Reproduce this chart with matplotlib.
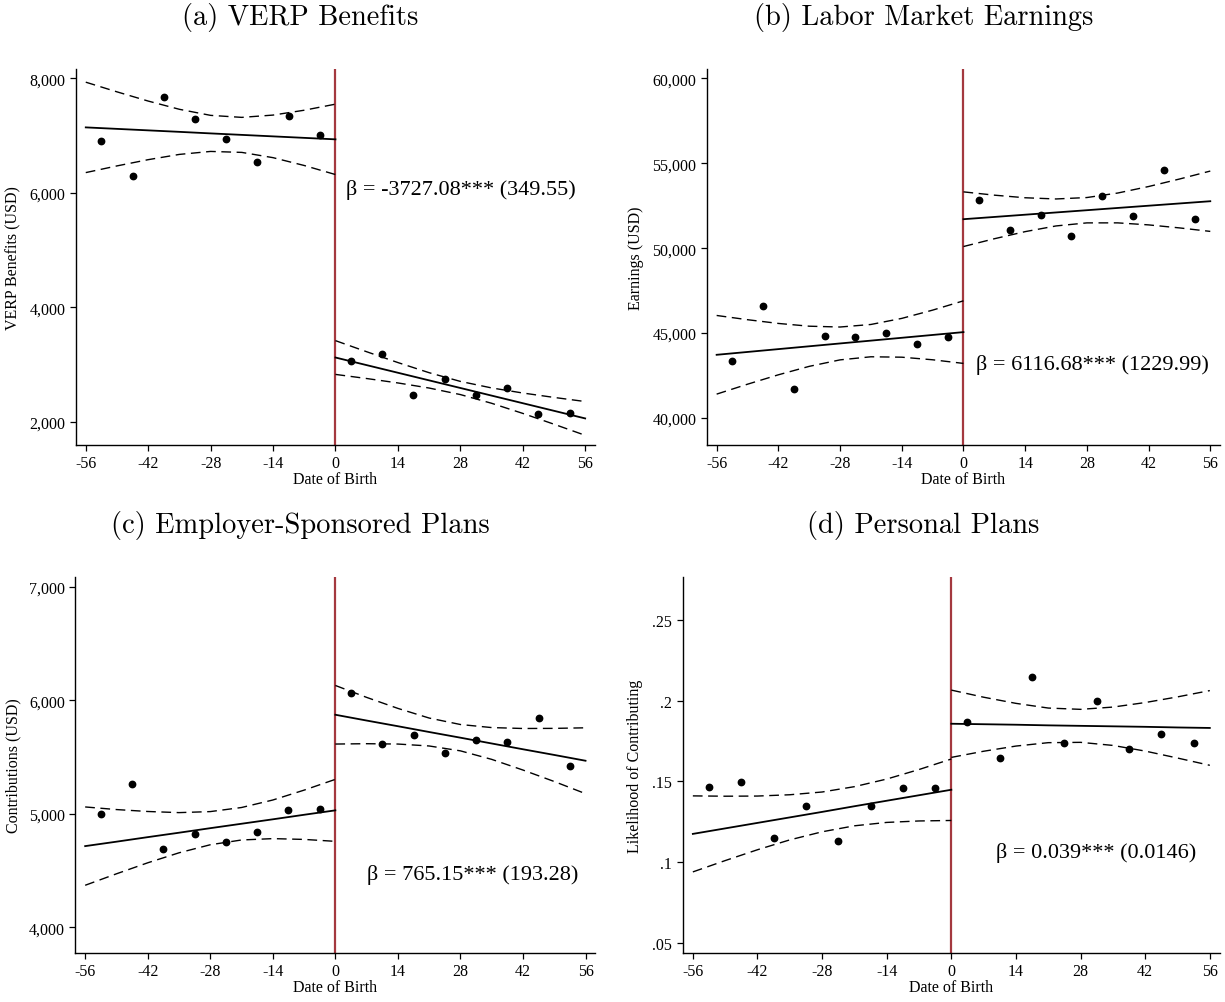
import numpy as np
import matplotlib
matplotlib.use("Agg")
import matplotlib.pyplot as plt

plt.rcParams['font.family'] = ['Liberation Serif', 'DejaVu Serif']

# bin midpoints (days from cutoff)
x_left = [-52.5, -45.5, -38.5, -31.5, -24.5, -17.5, -10.5, -3.5]
x_right = [3.5, 10.5, 17.5, 24.5, 31.5, 38.5, 45.5, 52.5]
# grid where the fitted line and its confidence band were read
g_left = [-56, -49, -42, -35, -28, -21, -14, -7, 0]
g_right = [0, 7, 14, 21, 28, 35, 42, 49, 56]
x_ticks = [-56, -42, -28, -14, 0, 14, 28, 42, 56]

# (a) VERP benefits
a_pts_l = [6899, 6292, 7668, 7283, 6939, 6531, 7336, 7014]
a_pts_r = [3058, 3180, 2469, 2755, 2463, 2598, 2143, 2161]
a_fit_l = [7143, 7117, 7091, 7065, 7038, 7012, 6986, 6960, 6934]
a_up_l = [7933, 7764, 7603, 7459, 7353, 7318, 7358, 7443, 7549]
a_lo_l = [6353, 6470, 6579, 6671, 6723, 6706, 6614, 6477, 6319]
a_fit_r = [3122, 2989, 2856, 2723, 2590, 2457, 2324, 2191, 2058]
a_up_r = [3417, 3223, 3034, 2857, 2705, 2591, 2502, 2425, 2353]
a_lo_r = [2827, 2755, 2678, 2589, 2475, 2323, 2146, 1957, 1763]

# (b) labor market earnings
b_pts_l = [43353, 46588, 41724, 44859, 44800, 45000, 44371, 44800]
b_pts_r = [52859, 51094, 51941, 50741, 53094, 51882, 54588, 51706]
b_fit_l = [43724, 43891, 44058, 44225, 44392, 44558, 44725, 44892, 45059]
b_up_l = [46039, 45790, 45570, 45407, 45359, 45509, 45867, 46353, 46901]
b_lo_l = [41409, 41992, 42546, 43043, 43425, 43607, 43583, 43431, 43217]
b_fit_r = [51706, 51838, 51971, 52103, 52235, 52368, 52500, 52632, 52764]
b_up_r = [53315, 53121, 52968, 52897, 52981, 53246, 53629, 54070, 54540]
b_lo_r = [50097, 50555, 50974, 51309, 51489, 51490, 51371, 51194, 50988]

# (c) employer-sponsored plans
c_pts_l = [4995, 5259, 4689, 4819, 4751, 4839, 5033, 5039]
c_pts_r = [6061, 5614, 5696, 5535, 5652, 5634, 5840, 5423]
c_fit_l = [4715, 4754, 4794, 4833, 4873, 4912, 4951, 4991, 5030]
c_up_l = [5060, 5037, 5020, 5010, 5019, 5055, 5121, 5208, 5303]
c_lo_l = [4370, 4471, 4568, 4656, 4727, 4769, 4781, 4774, 4757]
c_fit_r = [5872, 5821, 5771, 5720, 5670, 5619, 5568, 5518, 5467]
c_up_r = [6130, 6025, 5928, 5843, 5786, 5759, 5751, 5752, 5757]
c_lo_r = [5614, 5617, 5614, 5597, 5554, 5479, 5385, 5284, 5177]

# (d) personal plans
d_pts_l = [.1468, .1495, .1149, .1350, .1130, .1347, .1462, .1458]
d_pts_r = [.1866, .1643, .2148, .1738, .1999, .1699, .1792, .1738]
d_fit_l = [.1176, .1210, .1244, .1278, .1312, .1347, .1381, .1415, .1449]
d_up_l = [.1411, .1409, .1410, .1418, .1435, .1468, .1515, .1574, .1639]
d_lo_l = [.0941, .1011, .1078, .1139, .1189, .1226, .1247, .1256, .1259]
d_fit_r = [.1857, .1854, .1851, .1847, .1844, .1841, .1838, .1834, .1831]
d_up_r = [.2065, .2021, .1983, .1954, .1946, .1960, .1988, .2023, .2062]
d_lo_r = [.1649, .1687, .1719, .1740, .1742, .1723, .1688, .1645, .1600]

titles = ["(a) VERP Benefits", "(b) Labor Market Earnings",
          "(c) Employer-Sponsored Plans", "(d) Personal Plans"]
ylabels = ["VERP Benefits (USD)", "Earnings (USD)",
           "Contributions (USD)", "Likelihood of Contributing"]
betas = ["β = -3727.08*** (349.55)", "β = 6116.68*** (1229.99)",
         "β = 765.15*** (193.28)", "β = 0.039*** (0.0146)"]
y_ticks = [[2000, 4000, 6000, 8000],
           [40000, 45000, 50000, 55000, 60000],
           [4000, 5000, 6000, 7000],
           [.05, .1, .15, .2, .25]]
y_ticklabels = [["2,000", "4,000", "6,000", "8,000"],
                ["40,000", "45,000", "50,000", "55,000", "60,000"],
                ["4,000", "5,000", "6,000", "7,000"],
                [".05", ".1", ".15", ".2", ".25"]]

panels = [
    (a_pts_l, a_pts_r, a_fit_l, a_up_l, a_lo_l, a_fit_r, a_up_r, a_lo_r),
    (b_pts_l, b_pts_r, b_fit_l, b_up_l, b_lo_l, b_fit_r, b_up_r, b_lo_r),
    (c_pts_l, c_pts_r, c_fit_l, c_up_l, c_lo_l, c_fit_r, c_up_r, c_lo_r),
    (d_pts_l, d_pts_r, d_fit_l, d_up_l, d_lo_l, d_fit_r, d_up_r, d_lo_r),
]

# layout (figure fractions) and per-panel settings
rects = [[.0620, .5553, .4237, .3749], [.5771, .5553, .4188, .3749],
         [.0615, .0489, .4245, .3748], [.5573, .0489, .4386, .3748]]
ylims = [(1593, 8163), (38412, 60547), (3774, 7085), (.044, .2764)]
ylab_x = [-.106, -.123, -.104, -.073]
beta_pos = [(.52, .68), (.525, .215), (.56, .21), (.583, .268)]
title_pos = [(.245, .983), (.754, .983), (.245, .476), (.754, .476)]

red = '#a4383f'

fig = plt.figure(figsize=(12.25, 10.03), dpi=100)

for i, (pl, pr, fl, ul, ll, fr, ur, lr) in enumerate(panels):
    ax = fig.add_axes(rects[i])
    ax.axvline(0, color=red, lw=1.6, zorder=1)
    ax.plot(g_left, fl, color='black', lw=1.3)
    ax.plot(g_right, fr, color='black', lw=1.3)
    for ci_x, ci in [(g_left, ul), (g_left, ll), (g_right, ur), (g_right, lr)]:
        ax.plot(ci_x, ci, color='black', lw=1.0, ls=(0, (7, 4)))
    ax.plot(x_left, pl, 'o', color='black', ms=4.6)
    ax.plot(x_right, pr, 'o', color='black', ms=4.6)

    ax.set_xlim(-58.2, 58.2)
    ax.set_ylim(*ylims[i])
    ax.set_xticks(x_ticks)
    ax.set_xticklabels([str(t) for t in x_ticks])
    ax.set_yticks(y_ticks[i])
    ax.set_yticklabels(y_ticklabels[i])
    ax.tick_params(labelsize=11.5, length=4, width=0.9, direction='out')
    for s in ['top', 'right']:
        ax.spines[s].set_visible(False)
    for s in ['left', 'bottom']:
        ax.spines[s].set_linewidth(1.0)
    ax.set_xlabel("Date of Birth", fontsize=11.5)
    ax.xaxis.set_label_coords(0.5, -0.068)
    ax.set_ylabel(ylabels[i], fontsize=11.5)
    ax.yaxis.set_label_coords(ylab_x[i], 0.5)
    ax.text(beta_pos[i][0], beta_pos[i][1], betas[i], transform=ax.transAxes,
            fontsize=16, ha='left', va='center')
    fig.text(title_pos[i][0], title_pos[i][1], titles[i], family='cmr10',
             fontsize=20.5, ha='center', va='center')

fig.savefig("out.png", dpi=100)
